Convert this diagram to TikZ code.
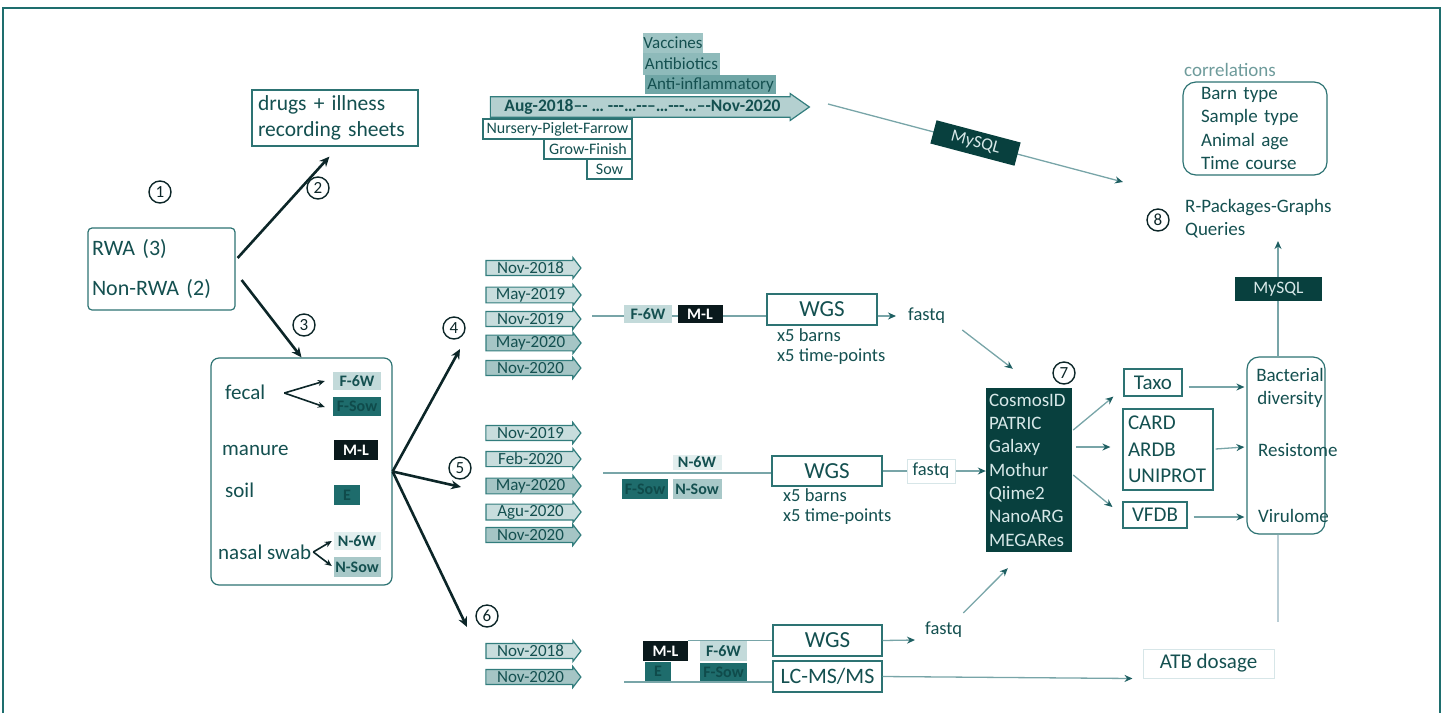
\documentclass[tikz,border=0pt]{standalone}
\usepackage{fontspec}
\setmainfont{Carlito}
\usetikzlibrary{arrows.meta,shapes.arrows,backgrounds,calc}

\definecolor{txt}{RGB}{20,80,80}
\definecolor{bord}{RGB}{45,115,115}
\definecolor{thinc}{RGB}{120,165,168}
\definecolor{ahead}{RGB}{30,95,98}
\definecolor{bigc}{RGB}{12,38,40}
\definecolor{darkf}{RGB}{8,64,62}
\definecolor{blackf}{RGB}{10,25,28}
\definecolor{tealf}{RGB}{30,108,108}
\definecolor{tealtx}{RGB}{15,75,75}
\definecolor{lightf}{RGB}{195,218,218}
\definecolor{palef}{RGB}{226,238,238}
\definecolor{midf}{RGB}{168,200,200}
\definecolor{tll}{RGB}{200,221,221}
\definecolor{tlm}{RGB}{165,197,197}
\definecolor{tlbord}{RGB}{50,125,125}
\definecolor{vac}{RGB}{158,196,196}
\definecolor{antib}{RGB}{142,186,186}
\definecolor{antii}{RGB}{112,166,166}
\definecolor{toptl}{RGB}{180,208,208}
\definecolor{lightbord}{RGB}{215,230,232}
\definecolor{greyline}{RGB}{185,205,212}
\definecolor{corrc}{RGB}{110,155,155}
\definecolor{toolt}{RGB}{215,232,232}
\definecolor{framec}{RGB}{30,110,110}

\tikzset{
  every node/.style={text=txt},
  box/.style={draw=bord, line width=1.2pt, fill=white, inner sep=0pt},
  lbl/.style={inner sep=0pt, font=\fontsize{21}{25}\selectfont},
  lblm/.style={inner sep=0pt, font=\fontsize{19}{23}\selectfont},
  lbls/.style={inner sep=0pt, font=\fontsize{18.5}{20}\selectfont},
  tag/.style={inner sep=0pt, font=\fontsize{16}{18}\selectfont\bfseries},
  tlarrow/.style={single arrow, draw=tlbord, line width=1.2pt,
    single arrow head extend=2.5pt, single arrow tip angle=105,
    minimum height=95pt, minimum width=21pt, inner sep=0pt,
    font=\fontsize{17}{18}\selectfont},
  bigarrow/.style={draw=bigc, line width=2.6pt, -{Stealth[length=10pt,width=9pt]}},
  smallarrow/.style={draw=bigc, line width=1.6pt, -{Stealth[length=7pt,width=6pt]}},
  thinline/.style={draw=thinc, line width=1.3pt},
  thinarrow/.style={thinline, -{Stealth[length=8pt,width=7pt,color=ahead]}},
  circ/.style={circle, draw=bigc, line width=1.4pt, inner sep=0pt,
    minimum size=22pt, font=\fontsize{17}{17}\selectfont, text=bigc},
  darkbox/.style={fill=darkf, text=toolt, inner sep=0pt},
}

\begin{document}
\begin{tikzpicture}[x=1pt,y=-1pt]
\useasboundingbox (0,0) rectangle (1445,713);
\draw[framec, line width=2pt] (3,713) -- (3,8) -- (1440,8) -- (1440,713);

% circled numbers
\node[circ] (n1) at (160,192) {1};
\node[circ] (n2) at (318,188) {2};
\node[circ] (n3) at (304,325) {3};
\node[circ] (n4) at (454,328) {4};
\node[circ] (n5) at (460,468) {5};
\node[circ] (n6) at (487,616) {6};
\node[circ] (n7) at (1064,373) {7};
\node[circ] (n8) at (1158,220) {8};

% farms and records
\node[box, rounded corners=4pt, minimum width=147, minimum height=82, align=left,
  text width=139, inner xsep=4pt, font=\fontsize{22}{26}\selectfont] (rwa) at (161.5,269)
  {RWA (3)\\[14pt]Non-RWA (2)};
\node[box, minimum height=56, align=left, text width=154, inner xsep=6pt,
  font=\fontsize{21.5}{26}\selectfont] (drugs) at (335,118) {drugs + illness\\recording sheets};

% sample box
\node[box, rounded corners=8pt, minimum width=181, minimum height=227] (sample) at (301.5,471.5) {};
\draw[bigarrow] ($(rwa.east)+(2,-11)$) -- ($(drugs.south west)+(78,10)$);
\draw[bigarrow] ($(rwa.east)+(6,11)$) -- (sample.north);

\node[lbl, anchor=west] (fecal) at (225,392) {fecal};
\node[lbl, anchor=west] (manure) at (222,450) {manure};
\node[lbl, anchor=west] (soil) at (225,490) {soil};
\node[lbl, anchor=west] (nasal) at (218,552) {nasal swab};
\node[tag, fill=lightf, minimum width=48, minimum height=18] (f6wA) at (357,381) {F-6W};
\node[tag, fill=tealf, text=tealtx, minimum width=48, minimum height=19] (fsowA) at (357,406) {F-Sow};
\node[tag, fill=blackf, text=white, minimum width=44, minimum height=20] (mlA) at (356,450) {M-L};
\node[tag, fill=tealf, text=tealtx, minimum width=26, minimum height=20] (eA) at (347,495) {E};
\node[tag, fill=palef, minimum width=47, minimum height=18] (n6wA) at (357,541) {N-6W};
\node[tag, fill=midf, minimum width=47, minimum height=20] (nsowA) at (357,567) {N-Sow};
\coordinate (fk) at ($(fecal.east)+(19,1)$);
\draw[smallarrow] (fk) -- ($(f6wA.west)+(-8,0)$);
\draw[smallarrow] (fk) -- ($(fsowA.west)+(-8,1)$);
\coordinate (nk) at ($(nasal.east)+(2,0)$);
\draw[smallarrow] (nk) -- ($(n6wA.west)+(-1.5,0)$);
\draw[smallarrow] (nk) -- ($(nsowA.west)+(-1.5,-1)$);

% fan
\coordinate (t4) at (460,349);
\coordinate (t5) at (461,487);
\coordinate (t6) at (467,627);
\draw[bigarrow] (sample.east) -- (t4);
\draw[bigarrow] (sample.east) -- (t5);
\draw[bigarrow] (sample.east) -- (t6);

% top timeline
\node[fill=vac, inner sep=0pt, minimum width=60, minimum height=20, font=\fontsize{17}{18}\selectfont] (vacc) at (673,43) {Vaccines};
\node[fill=antib, inner sep=0pt, minimum width=77, minimum height=22, font=\fontsize{17}{18}\selectfont] (antb) at (681.5,64) {Antibiotics};
\node[fill=antii, inner sep=0pt, minimum width=131, minimum height=19, font=\fontsize{17}{18}\selectfont] (antinf) at (710.5,84.5) {Anti-inflammatory};
\node[single arrow, draw=tlbord, fill=toptl, line width=1.2pt, single arrow head extend=2.5pt,
  single arrow tip angle=70, minimum height=319pt, minimum width=27pt, inner sep=0pt,
  font=\fontsize{17.5}{18}\selectfont\bfseries] (topt) at (642.5,107)
  {Aug-2018–- … -{}-{}-…-{}-–…-{}-{}-…–-Nov-2020};
\node[box, minimum width=149, minimum height=20, font=\fontsize{16}{18}\selectfont] (nurs) at (557.5,129) {Nursery-Piglet-Farrow};
\node[box, minimum width=88, minimum height=20, font=\fontsize{16}{18}\selectfont] (grow) at (588,149) {Grow-Finish};
\node[box, minimum width=45, minimum height=20, font=\fontsize{16}{18}\selectfont] (sow) at (609.5,169) {Sow};

% MySQL diagonal
\coordinate (m1s) at (828,104);
\coordinate (m1e) at (1123,182);
\draw[thinarrow] (m1s) -- node[sloped, darkbox, minimum width=87, minimum height=24,
  font=\fontsize{17.5}{18}\selectfont] (ms1) {MySQL} (m1e);

% group 4
\node[tlarrow, fill=tll] (a41) at (530.5,268) {Nov-2018};
\node[tlarrow, fill=tll] (a42) at (530.5,295) {May-2019};
\node[tlarrow, fill=tll] (a43) at (530.5,319) {Nov-2019};
\node[tlarrow, fill=tlm] (a44) at (530.5,343) {May-2020};
\node[tlarrow, fill=tlm] (a45) at (530.5,368) {Nov-2020};
\node[tag, fill=lightf, minimum width=48, minimum height=18] (f6wB) at (648,314) {F-6W};
\node[tag, fill=blackf, text=white, minimum width=45, minimum height=18] (mlB) at (700,314) {M-L};
\node[box, minimum width=110, minimum height=31, font=\fontsize{23}{26}\selectfont] (wgsA) at (822,309.5) {WGS};
\node[lbls, anchor=west, align=left] (xbA) at (777,347) {x5 barns\\x5 time-points};
\node[inner sep=0pt, anchor=west, font=\fontsize{18.5}{22}\selectfont] (fqA) at (908,316) {fastq};
\coordinate (r4s) at (592,316);

% group 5
\node[tlarrow, fill=tll] (a51) at (530.5,433) {Nov-2019};
\node[tlarrow, fill=tll] (a52) at (530.5,459) {Feb-2020};
\node[tlarrow, fill=tlm] (a53) at (530.5,486) {May-2020};
\node[tlarrow, fill=tll] (a54) at (530.5,512) {Agu-2020};
\node[tlarrow, fill=tlm] (a55) at (530.5,535) {Nov-2020};
\node[tag, fill=palef, minimum width=49, minimum height=15] (n6wB) at (697,462.5) {N-6W};
\node[tag, fill=tealf, text=tealtx, minimum width=46, minimum height=20] (fsowB) at (645,489) {F-Sow};
\node[tag, fill=midf, minimum width=49, minimum height=20] (nsowB) at (697,489) {N-Sow};
\node[box, minimum width=110, minimum height=30, font=\fontsize{23}{26}\selectfont] (wgsB) at (827,471) {WGS};
\node[lbls, anchor=west, align=left] (xbB) at (783,507) {x5 barns\\x5 time-points};
\node[draw=lightbord, line width=1pt, inner sep=0pt, minimum width=48, minimum height=24,
  font=\fontsize{18.5}{22}\selectfont] (fqB) at (931,471) {fastq};
\coordinate (r5s) at (603,473);

% group 6
\node[tlarrow, fill=tll] (a61) at (530.5,651) {Nov-2018};
\node[tlarrow, fill=tlm] (a62) at (530.5,677) {Nov-2020};
\node[tag, fill=blackf, text=white, minimum width=45, minimum height=20] (mlC) at (665.5,651) {M-L};
\node[tag, fill=tealf, text=tealtx, minimum width=26, minimum height=19] (eC) at (658,671.5) {E};
\node[tag, fill=lightf, minimum width=47, minimum height=20] (f6wC) at (723.5,651) {F-6W};
\node[tag, fill=tealf, text=tealtx, minimum width=47, minimum height=18] (fsowC) at (723.5,672) {F-Sow};
\node[box, minimum width=109, minimum height=31, font=\fontsize{23}{26}\selectfont] (wgsC) at (827.5,640.5) {WGS};
\node[box, minimum width=109, minimum height=31, font=\fontsize{22}{26}\selectfont] (lcms) at (827.5,676.5) {LC-MS/MS};
\node[inner sep=0pt, anchor=west, font=\fontsize{18.5}{22}\selectfont] (fqC) at (925,630) {fastq};
\coordinate (r6s) at (624,682);
\node[draw=lightbord, line width=1pt, minimum width=131, minimum height=29, inner sep=0pt,
  font=\fontsize{21}{25}\selectfont] (atb) at (1208.5,663.5) {ATB dosage};

% tools
\node[fill=darkf, minimum width=86, minimum height=164, text width=80, inner xsep=3pt, inner ysep=0pt,
  align=left, text=toolt, font=\fontsize{19}{23.3}\selectfont] (tools) at (1029,470)
  {CosmosID\\PATRIC\\Galaxy\\Mothur\\Qiime2\\NanoARG\\MEGARes};

% databases
\node[box, minimum width=58, minimum height=27, font=\fontsize{21}{25}\selectfont] (taxo) at (1153,382.5) {Taxo};
\node[box, minimum height=81, text width=80, inner xsep=5pt, align=left,
  font=\fontsize{21}{26.5}\selectfont] (card) at (1168,449.5) {CARD\\ARDB\\UNIPROT};
\node[box, minimum width=64, minimum height=26, font=\fontsize{21}{25}\selectfont] (vfdb) at (1155,515) {VFDB};

% right box
\node[box, rounded corners=12pt, minimum width=78, minimum height=177] (rbox) at (1286,445.5) {};
\node[lblm, align=center] (bact) at (1290,388) {Bacterial\\diversity};
\node[lblm, anchor=west] (resist) at (1258,450) {Resistome};
\node[lblm, anchor=west] (viru) at (1258,516) {Virulome};
\node[darkbox, minimum width=87, minimum height=24, font=\fontsize{17.5}{18}\selectfont] (ms2) at (1278.5,289) {MySQL};
\node[lblm, anchor=west, align=left] (rq) at (1185,218.5) {R-Packages-Graphs\\Queries};
\node[inner sep=0pt, text=corrc, font=\fontsize{19}{22}\selectfont] (corrl) at (1230,70) {correlations};
\node[box, rounded corners=13pt, minimum height=93, text width=108, inner xsep=18pt, align=left,
  font=\fontsize{19}{23.3}\selectfont] (corrb) at (1255,128.5) {Barn type\\Sample type\\Animal age\\Time course};

% connectors
\begin{scope}[on background layer]
\draw[thinline] (r4s) -- (r4s -| wgsA.west);
\draw[thinline] (r5s) -- (r5s -| wgsB.west);
\draw[thinline] (mlC.north east) -- (mlC.north east -| wgsC.west);
\draw[thinline] (r6s) -- (r6s -| lcms.west);
\end{scope}
\draw[thinarrow] (r4s -| wgsA.east) -- ($(fqA.west)+(-12,0)$);
\draw[thinline] (wgsB.east) -- (fqB.west);
\draw[thinarrow] (fqB.east) -- (fqB.east -| tools.west);
\draw[thinarrow] (wgsC.east) -- ($(fqC.west)+(-10,10)$);
\draw[thinarrow] (lcms.east) -- ($(atb.south west)+(-10,0)$);
\draw[thinarrow] ($(fqA.east)+(17,14)$) -- ($(tools.north west)+(27,-19)$);
\draw[thinarrow] ($(fqC.east)+(1,-17)$) -- ($(tools.south west)+(22,16)$);
\draw[thinarrow] ($(tools.east)+(1,-40)$) -- ($(taxo.south west)+(-10,0)$);
\draw[thinarrow] ($(tools.east)+(4,-23)$) -- ($(card.west)+(-12,-2.5)$);
\draw[thinarrow] ($(tools.east)+(1,5)$) -- ($(vfdb.west)+(-10,-8)$);
\draw[thinarrow] ($(taxo.east)+(6,4.5)$) -- ($(rbox.west)+(-2,-58.5)$);
\draw[thinarrow] ($(card.east)+(2,-0.5)$) -- ($(rbox.west)+(-2,1.5)$);
\draw[thinarrow] ($(vfdb.east)+(6,2)$) -- ($(rbox.west)+(-2,71.5)$);
\coordinate (vx) at (1278,0);
\coordinate (qtip) at (1278,241);
\coordinate (vbot) at (1278,622);
\draw[thinline] (rbox.north -| vx) -- (ms2.south -| vx);
\draw[thinarrow] (ms2.north -| vx) -- (qtip);
\draw[draw=greyline, line width=1.5pt] (rbox.south -| vx) -- (vbot);
\end{tikzpicture}
\end{document}
